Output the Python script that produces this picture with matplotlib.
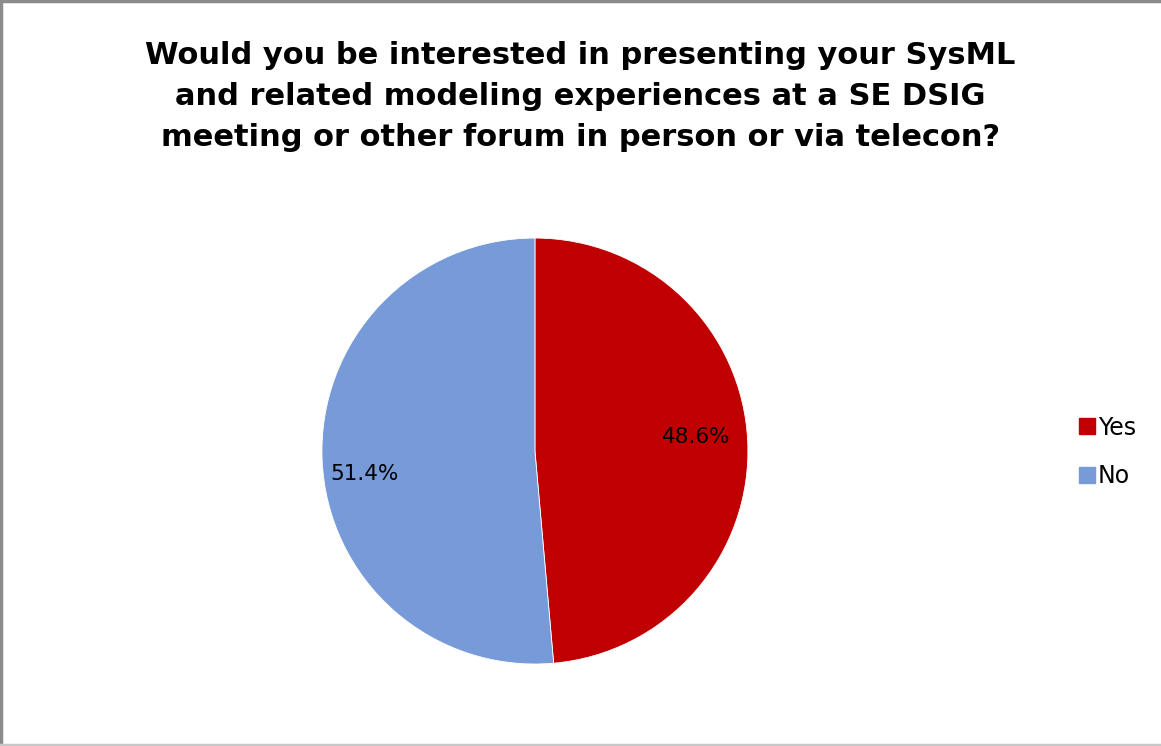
import matplotlib.pyplot as plt
from matplotlib.lines import Line2D

# survey answers
answers = ["Yes", "No"]
shares = [48.6, 51.4]
colors = ["#C00000", "#779AD8"]

title = ("Would you be interested in presenting your SysML\n"
         "and related modeling experiences at a SE DSIG\n"
         "meeting or other forum in person or via telecon?")

fig = plt.figure(figsize=(11.61, 7.46), dpi=100)
fig.patch.set_facecolor("white")

# square axes for the pie
ax = fig.add_axes([0.2773, 0.1099, 0.3669, 0.5710])
wedges, texts, autotexts = ax.pie(
    shares, colors=colors, startangle=90, counterclock=False,
    autopct="%.1f%%", pctdistance=0.77,
    wedgeprops=dict(linewidth=0.6, edgecolor="white"),
    textprops=dict(fontsize=15.5, color="black"))
# nudge percentage labels a little
x0, y0 = autotexts[0].get_position()
autotexts[0].set_position((x0 - 0.01, y0 + 0.03))
x1, y1 = autotexts[1].get_position()
autotexts[1].set_position((x1 - 0.03, y1 - 0.075))
ax.set_xlim(-1, 1)
ax.set_ylim(-1, 1)
ax.set_aspect("equal")
ax.axis("off")

fig.text(0.5, 0.945, title, ha="center", va="top", fontsize=22,
         fontweight="bold", linespacing=1.52)

# legend on the right
handles = [Line2D([0], [0], marker="s", linestyle="none", markersize=11,
                  markerfacecolor=c, markeredgecolor=c) for c in colors]
fig.legend(handles, answers, loc="center left", bbox_to_anchor=(0.91, 0.394),
           frameon=False, fontsize=17, handletextpad=0.05, labelspacing=1.05,
           handlelength=0.8)

# thin frame around the chart area
fig.add_artist(Line2D([0.001, 0.001], [0, 1], transform=fig.transFigure,
                      color="#8c8c8c", linewidth=2.5))
fig.add_artist(Line2D([0, 1], [0.998, 0.998], transform=fig.transFigure,
                      color="#8c8c8c", linewidth=2.5))
fig.add_artist(Line2D([0, 1], [0.002, 0.002], transform=fig.transFigure,
                      color="#c8c8c8", linewidth=2.5))

fig.savefig("out.png", dpi=100, facecolor="white")
